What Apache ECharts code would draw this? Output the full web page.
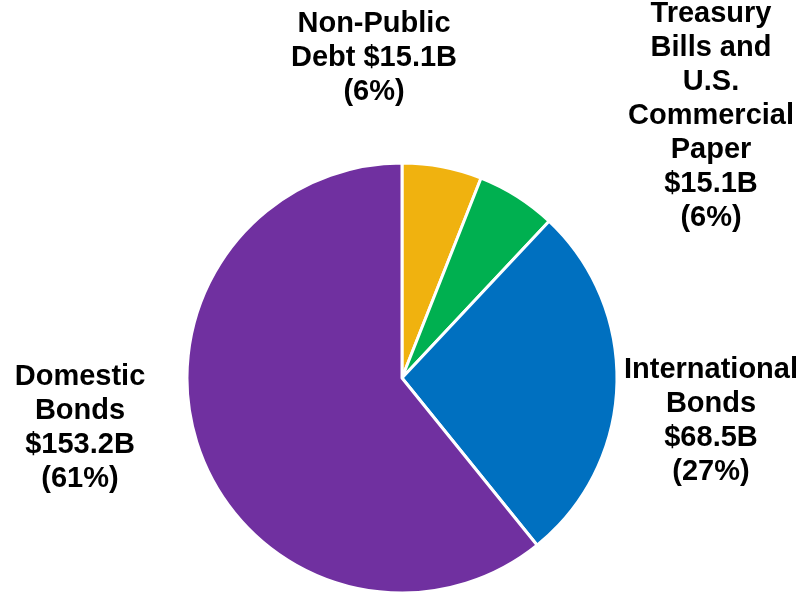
<!DOCTYPE html>
<html>
<head>
<meta charset="utf-8">
<script src="https://cdn.jsdelivr.net/npm/echarts@6/dist/echarts.min.js"></script>
<style>
  html, body { margin: 0; padding: 0; background: #fff; }
  #chart { width: 802px; height: 593px; }
</style>
</head>
<body>
<div id="chart"></div>
<script>
// Portfolio composition, billions of dollars
const categories = [
  'Non-Public\nDebt',
  'Treasury\nBills and\nU.S.\nCommercial\nPaper',
  'International\nBonds',
  'Domestic\nBonds'
];
const amounts = [15.1, 15.1, 68.5, 153.2];
const percents = [6, 6, 27, 61];
const colors = ['#F0B20F', '#00B050', '#0070C0', '#7030A0'];

// Label anchor points (centre of each text block)
const labelSpots = [
  [374, 58],
  [711, 116],
  [711, 421],
  [80, 428]
];

const chart = echarts.init(document.getElementById('chart'), null, { renderer: 'canvas' });

chart.setOption({
  animation: false,
  backgroundColor: '#ffffff',
  series: [{
    type: 'pie',
    center: [402, 378],
    radius: [0, 215],
    startAngle: 90,
    clockwise: true,
    avoidLabelOverlap: false,
    itemStyle: { borderColor: '#ffffff', borderWidth: 3 },
    label: {
      show: true,
      position: 'outside',
      formatter: function (p) {
        const name = categories[p.dataIndex];
        const sep = p.dataIndex === 0 ? ' ' : '\n';
        return name + sep + '$' + amounts[p.dataIndex].toFixed(1) + 'B\n(' + percents[p.dataIndex] + '%)';
      },
      fontFamily: '"Liberation Sans", Arial, sans-serif',
      fontWeight: 'bold',
      fontSize: 29,
      lineHeight: 34,
      color: '#000000',
      align: 'center'
    },
    labelLine: { show: false },
    labelLayout: function (params) {
      const s = labelSpots[params.dataIndex];
      return { x: s[0], y: s[1], align: 'center', verticalAlign: 'middle' };
    },
    data: categories.map(function (c, i) {
      return { name: c, value: amounts[i], itemStyle: { color: colors[i] } };
    })
  }]
});
</script>
</body>
</html>
